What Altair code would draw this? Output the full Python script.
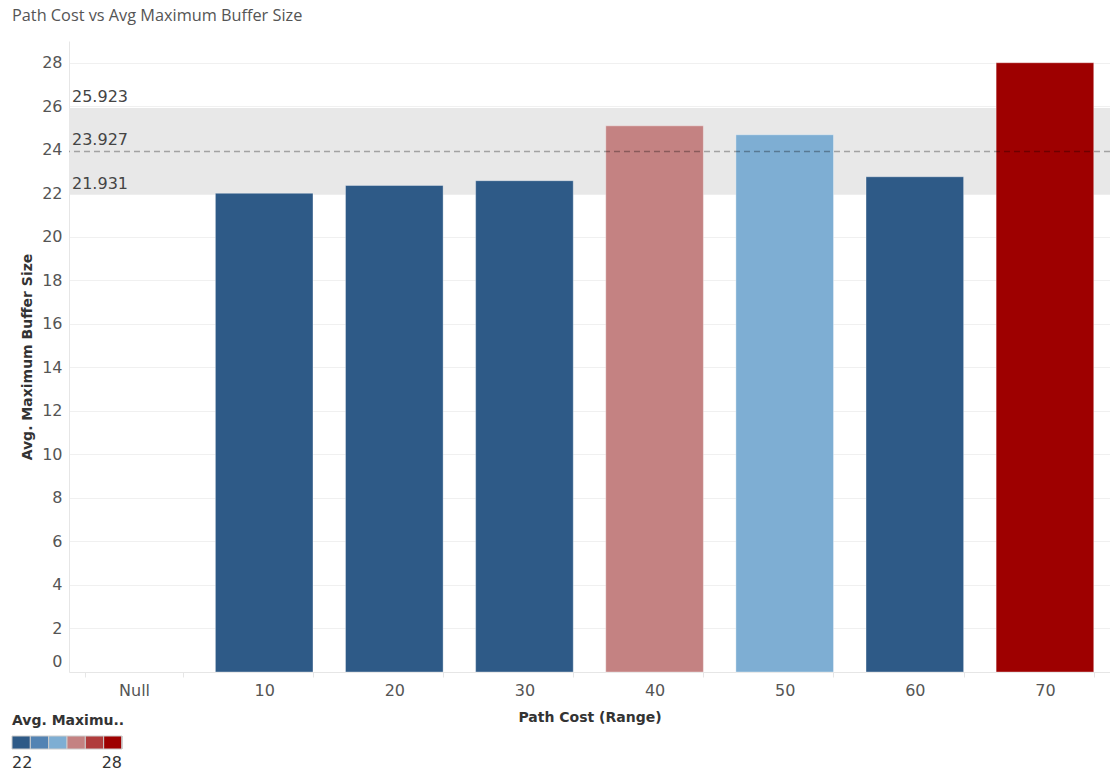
import altair as alt
import pandas as pd

categories = ["Null", "10", "20", "30", "40", "50", "60", "70"]
values = [None, 22.0, 22.36, 22.58, 25.1, 24.69, 22.76, 28.0]
ref_mean = 23.927
ref_low = 21.931
ref_high = 25.923
palette = ["#2e5a87", "#5383b3", "#7eaed3", "#c48282", "#b03c3c", "#9e0000"]
legend_steps = [22, 22, 23, 24, 25, 26, 27, 28]
y_ticks = list(range(0, 29, 2))

FONT = "DejaVu Sans"
bars_df = pd.DataFrame({"cost": categories, "value": values})
ref_df = pd.DataFrame({"low": [ref_low], "high": [ref_high], "mean": [ref_mean]})
lab_df = pd.DataFrame({"v": [ref_high, ref_mean, ref_low]})
lab_df["label"] = lab_df["v"].map(lambda v: f"{v:.3f}")

yscale = alt.Scale(domain=[0, 29], nice=False, zero=True)
xscale = alt.Scale(domain=categories, paddingInner=0.25, paddingOuter=0.125)
yaxis = alt.Axis(title="Avg. Maximum Buffer Size", values=y_ticks, tickSize=0,
                 labelPadding=7, titlePadding=7, grid=True, gridColor="#f0f0f0",
                 domainColor="#e6e6e6",
                 labelOffset={"condition": {"test": "datum.value === 0", "value": -11}, "value": 0})

band = alt.Chart(ref_df).mark_rect(color="#e8e8e8").encode(
    y=alt.Y("low:Q", scale=yscale, axis=yaxis),
    y2="high:Q",
)

bars = alt.Chart(bars_df).mark_bar(stroke="#ffffff", strokeOpacity=0.35, strokeWidth=1).encode(
    x=alt.X("cost:N", scale=xscale, sort=categories,
            axis=alt.Axis(title="Path Cost (Range)", labelAngle=0, tickBand="extent",
                          tickSize=5, tickColor="#e6e6e6", domainColor="#e6e6e6",
                          labelPadding=5, titlePadding=12, grid=False)),
    y=alt.Y("value:Q", scale=yscale, axis=yaxis),
    color=alt.Color("value:Q",
                    scale=alt.Scale(type="quantize", domain=[22, 28], range=palette, nice=False),
                    legend=alt.Legend(title="Avg. Maximu..", type="gradient", orient="none",
                                      legendX=-57, legendY=673, direction="horizontal",
                                      values=legend_steps, format="d",
                                      labelExpr="datum.value == 22 || datum.value == 28 ? datum.label : ''",
                                      gradientLength=110, gradientThickness=13,
                                      gradientStrokeColor="#cccccc", gradientStrokeWidth=1,
                                      titleFontSize=14, titleFontWeight="bold", titleColor="#333333",
                                      titlePadding=8, labelFontSize=16, labelColor="#333333",
                                      labelOffset=6)),
)

rule = alt.Chart(ref_df).mark_rule(color="#000000", opacity=0.3, strokeDash=[6, 4], strokeWidth=1.5).encode(
    y=alt.Y("mean:Q", scale=yscale, axis=yaxis),
)

labels = alt.Chart(lab_df).mark_text(align="left", baseline="bottom", dx=3, dy=-3,
                                     fontSize=16, color="#444444", font=FONT).encode(
    x=alt.value(0),
    y=alt.Y("v:Q", scale=yscale, axis=yaxis),
    text="label:N",
)

chart = alt.layer(band, bars, rule, labels).properties(
    width=1041,
    height=631,
    autosize=alt.AutoSizeParams(type="none"),
    padding={"left": 69, "top": 41, "right": 0, "bottom": 99},
    title=alt.TitleParams("Path Cost vs Avg Maximum Buffer Size", anchor="start", frame="group",
                          dx=-57, offset=17, fontSize=16.3, fontWeight="normal", color="#555555",
                          font="Open Sans"),
).configure_view(stroke=None).configure_axis(
    labelFont=FONT, titleFont=FONT, labelFontSize=16, labelColor="#555555",
    titleFontSize=14, titleFontWeight="bold", titleColor="#333333",
).configure_legend(labelFont=FONT, titleFont=FONT)

chart.save("out.html", embed_options={"renderer": "svg", "actions": False})
